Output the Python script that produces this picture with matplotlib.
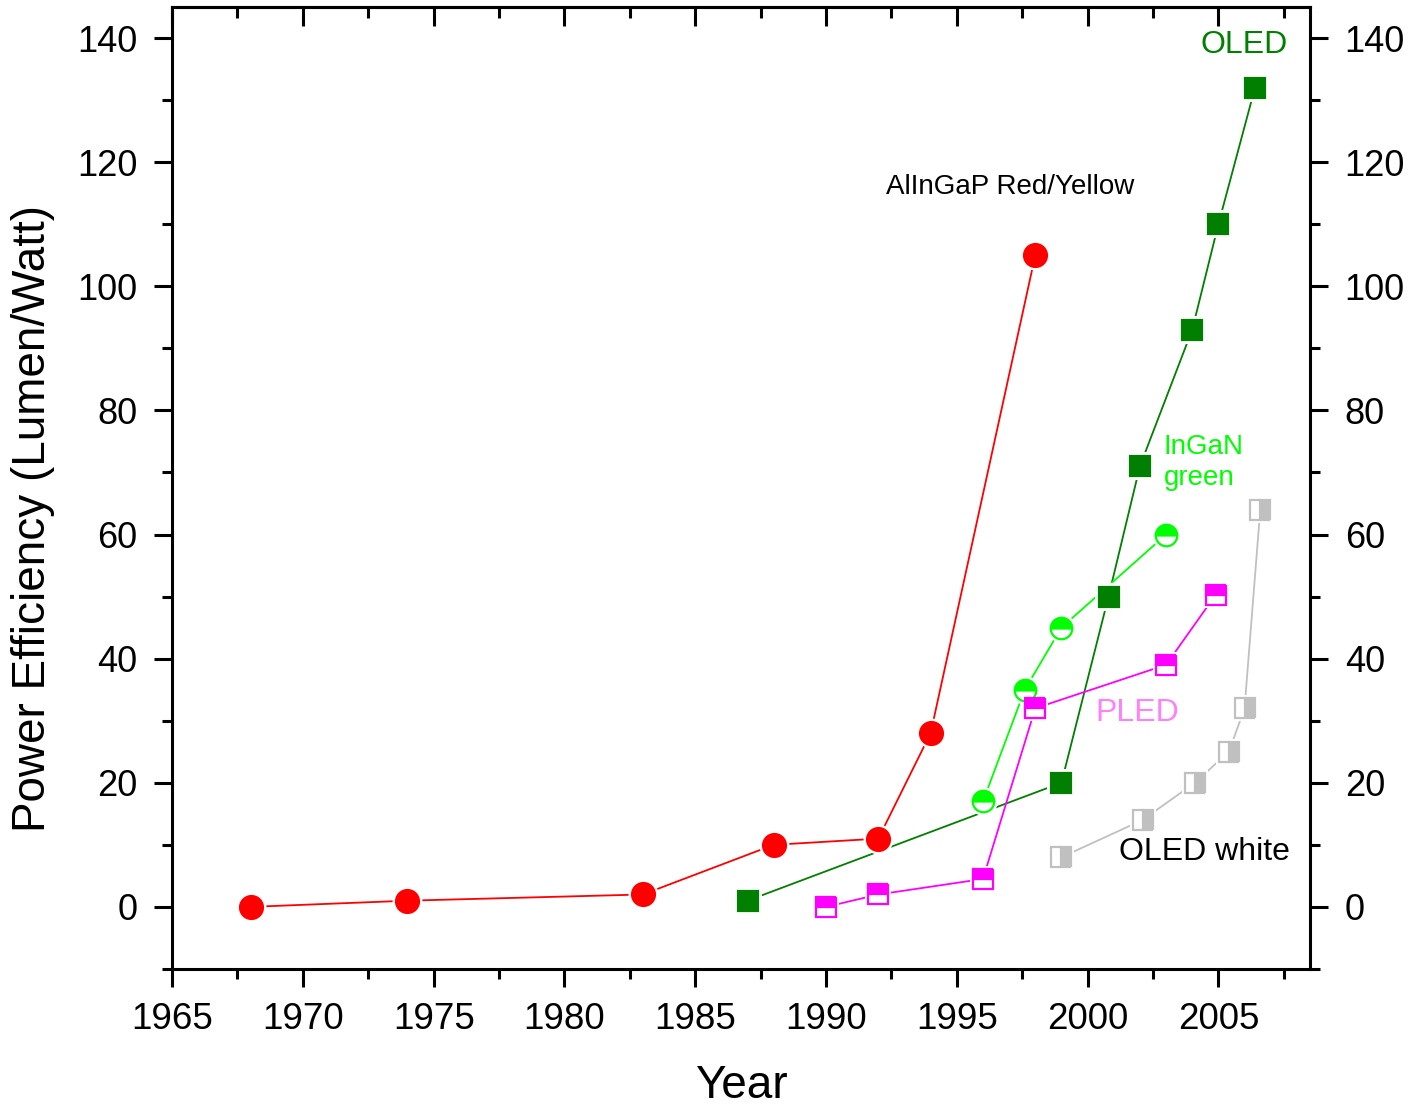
import matplotlib
matplotlib.use("Agg")
import matplotlib.pyplot as plt
from matplotlib.ticker import MultipleLocator

plt.rcParams['font.family'] = ['Liberation Sans', 'DejaVu Sans']

# Data
red_year = [1968, 1974, 1983, 1988, 1992, 1994, 1998]
red_eff = [0, 1, 2, 10, 11, 28, 105]

oled_year = [1987, 1999, 2000.8, 2002, 2004, 2005, 2006.4]
oled_eff = [1, 20, 50, 71, 93, 110, 132]

ingan_year = [1996, 1997.6, 1999, 2003]
ingan_eff = [17, 35, 45, 60]

pled_year = [1990, 1992, 1996, 1998, 2003, 2004.9]
pled_eff = [0, 2, 4.5, 32, 39, 50.3]

white_year = [1999, 2002.1, 2004.1, 2005.4, 2006, 2006.6]
white_eff = [8, 14, 20, 25, 32, 64]

fig = plt.figure(figsize=(14.16, 11.07), dpi=100)
ax = fig.add_axes([0.1215, 0.1247, 0.9251 - 0.1215, 0.9937 - 0.1247])


def series(x, y, color, marker, ms, fillstyle='full', alt='white', edge=None):
    ax.plot(x, y, '-', color=color, lw=1.3, zorder=2)
    # white halo to leave a small gap between line and marker
    ax.plot(x, y, ls='none', marker=marker, ms=ms + 5, mfc='white', mec='white',
            mew=0, zorder=3)
    ax.plot(x, y, ls='none', marker=marker, ms=ms, color=color,
            mfc=color, mec=edge if edge else color, mew=1.6,
            fillstyle=fillstyle, markerfacecoloralt=alt, zorder=4)


series(red_year, red_eff, '#ff0000', 'o', 16.5)
series(oled_year, oled_eff, '#007f00', 's', 14.5)
series(ingan_year, ingan_eff, '#00ff00', 'o', 15.5, fillstyle='top')
series(pled_year, pled_eff, '#ff00ff', 's', 14, fillstyle='top')
series(white_year, white_eff, '#c0c0c0', 's', 14, fillstyle='right')

ax.set_xlim(1965, 2008.5)
ax.set_ylim(-10, 145)

ax.xaxis.set_major_locator(MultipleLocator(5))
ax.xaxis.set_minor_locator(MultipleLocator(2.5))
ax.yaxis.set_major_locator(MultipleLocator(20))
ax.yaxis.set_minor_locator(MultipleLocator(10))

for sp in ax.spines.values():
    sp.set_linewidth(2.2)

ax.tick_params(axis='x', which='both', direction='out', top=False, bottom=True,
               labelsize=26.5, width=2.2, pad=11)
ax.tick_params(axis='x', which='major', length=13)
ax.tick_params(axis='x', which='minor', length=7)
ax.tick_params(axis='y', which='both', direction='out', left=True, right=True,
               labelleft=True, labelright=True, labelsize=26, width=2.2, pad=12)
ax.tick_params(axis='y', which='major', length=13)
ax.tick_params(axis='y', which='minor', length=7)

top = ax.secondary_xaxis('top')
top.xaxis.set_major_locator(MultipleLocator(5))
top.xaxis.set_minor_locator(MultipleLocator(2.5))
top.tick_params(axis='x', which='both', direction='in', labeltop=False, width=2.2)
top.tick_params(axis='x', which='major', length=14)
top.tick_params(axis='x', which='minor', length=8)
top.spines['top'].set_linewidth(2.2)

ax.set_xlabel('Year', fontsize=33, labelpad=19)
fig.text(0.0233, 0.532, 'Power Efficiency (Lumen/Watt)', fontsize=33,
         rotation=90, ha='center', va='center')

ax.text(1992.3, 116.0, 'AlInGaP Red/Yellow', fontsize=20, color='black',
        ha='left', va='center')
ax.text(2004.3, 138.8, 'OLED', fontsize=23, color='#008000', ha='left', va='center')
ax.text(2002.9, 71.6, 'InGaN\ngreen', fontsize=20, color='#00ff00', ha='left',
        va='center', linespacing=1.25)
ax.text(2000.3, 31.3, 'PLED', fontsize=23, color='#ff80ff', ha='left', va='center')
ax.text(2001.2, 8.9, 'OLED white', fontsize=23, color='black', ha='left', va='center')

fig.savefig('out.png', dpi=100)
